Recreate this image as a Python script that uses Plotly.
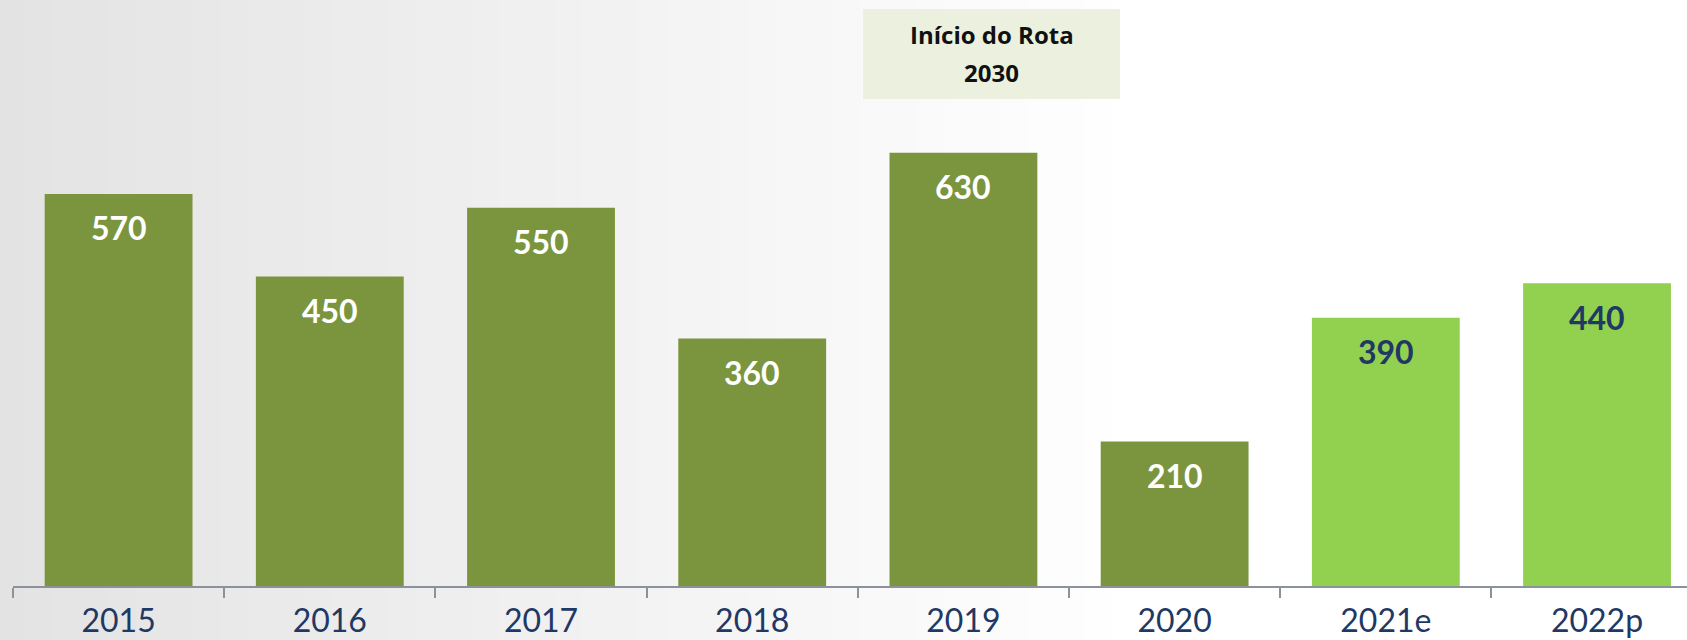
import plotly.graph_objects as go

categories = ["2015", "2016", "2017", "2018", "2019", "2020", "2021e", "2022p"]
values = [570, 450, 550, 360, 630, 210, 390, 440]
bar_colors = ["#7a953d"] * 6 + ["#92d050"] * 2
label_colors = ["#ffffff"] * 6 + ["#1f3864"] * 2
box_lines = ["Início do Rota", "2030"]

W, H = 1687, 640
fig = go.Figure()
fig.add_trace(go.Bar(
    x=categories, y=values, marker=dict(color=bar_colors, line=dict(width=0)),
    width=0.70, hoverinfo="skip", showlegend=False,
))

# value labels (x as category index so numeric-looking names are not misread)
for i, (v, col) in enumerate(zip(values, label_colors)):
    fig.add_annotation(x=i, y=v, xref="x", yref="y", text="<b>%d</b>" % v,
                       showarrow=False, yanchor="middle", yshift=-34,
                       font=dict(family="Lato, DejaVu Sans", size=32, color=col))

# background gradient strips
shapes = []
n = 60
for i in range(n):
    x0 = i / n
    x1 = (i + 1) / n
    t = min(1.0, (x0 + x1) / 2 / 0.68)
    g = int(round(0xe3 + (0xff - 0xe3) * t))
    shapes.append(dict(type="rect", xref="paper", yref="paper", x0=x0 - 0.01, x1=x1 + 0.001,
                       y0=-1, y1=2, fillcolor="rgb(%d,%d,%d)" % (g, g, g),
                       line=dict(width=0), layer="below"))
fig.update_layout(shapes=shapes)

# annotation box
fig.add_shape(type="rect", xref="x", yref="y", x0=3.525, x1=4.741, y0=708, y1=839,
              fillcolor="#ebf1de", line=dict(width=0), layer="below")
fig.add_annotation(x=4.133, y=802, xref="x", yref="y", text="<b>%s</b>" % box_lines[0],
                   showarrow=False, font=dict(family="Open Sans, Liberation Sans", size=24, color="#111111"))
fig.add_annotation(x=4.133, y=746, xref="x", yref="y", text="<b>%s</b>" % box_lines[1],
                   showarrow=False, font=dict(family="Open Sans, Liberation Sans", size=24, color="#111111"))

fig.update_layout(
    width=W, height=H,
    margin=dict(l=13, r=0, t=0, b=54, autoexpand=False),
    paper_bgcolor="#ffffff", plot_bgcolor="rgba(0,0,0,0)",
    bargap=0.3,
    xaxis=dict(type="category", range=[-0.5, 7.426], showgrid=False, zeroline=False,
               automargin=False,
               showline=True, linecolor="#8c929c", linewidth=2,
               ticks="outside", tickson="boundaries", ticklen=10, tickcolor="#8c929c", tickwidth=2,
               ticklabelstandoff=6,
               tickfont=dict(family="Lato, DejaVu Sans", size=32, color="#1f3864")),
    yaxis=dict(range=[0, 852], visible=False, showgrid=False, zeroline=False, automargin=False),
)
fig.write_html("out.html", config={"displayModeBar": False},
               post_script="document.body.style.margin='0';document.body.style.overflow='hidden';")
